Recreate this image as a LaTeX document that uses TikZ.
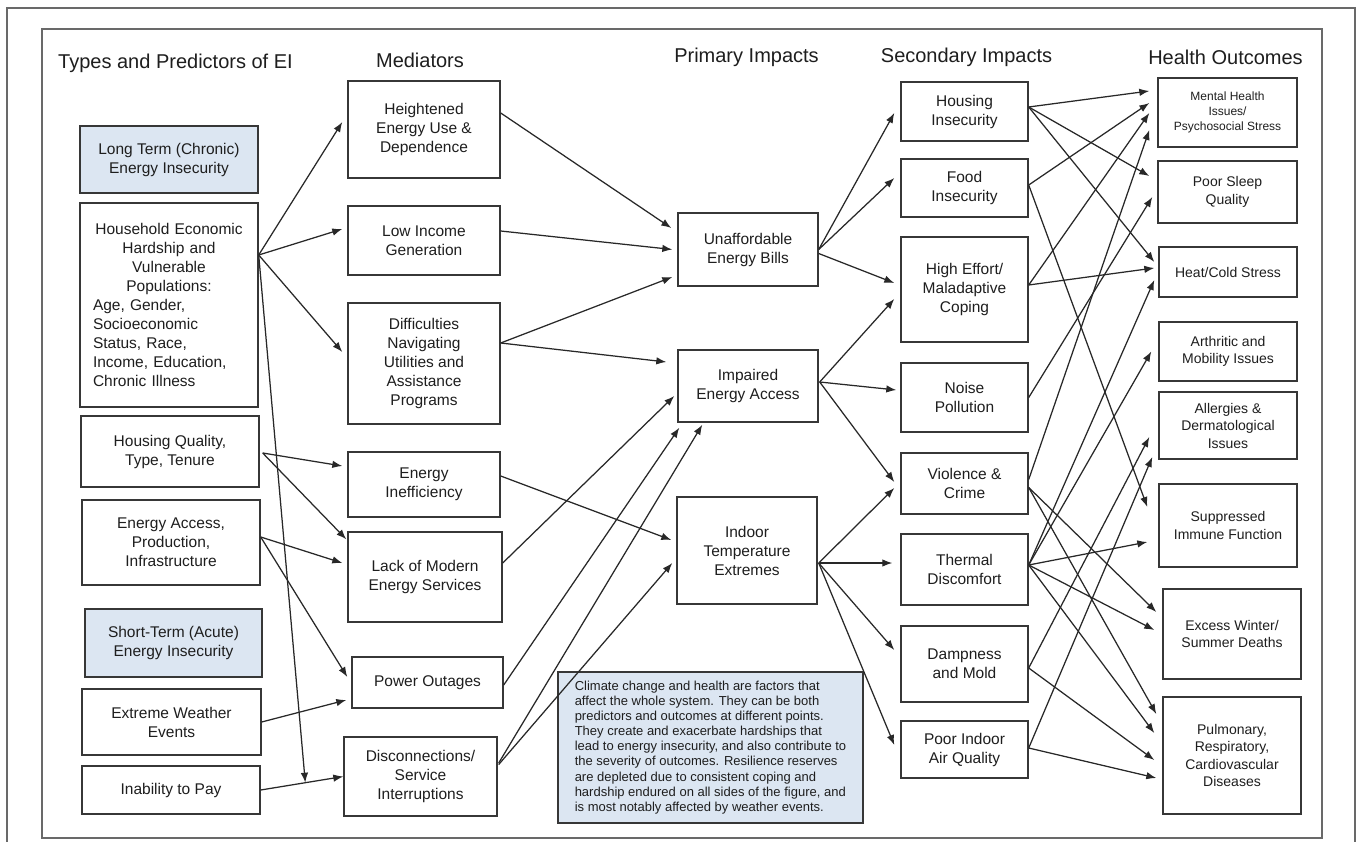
\documentclass[tikz,border=0pt]{standalone}
\usepackage{fontspec}
\setmainfont{Liberation Sans}
\usetikzlibrary{arrows.meta,calc}
\definecolor{boxc}{RGB}{55,55,55}
\definecolor{txt}{RGB}{30,30,30}
\definecolor{bluef}{RGB}{220,230,242}
\definecolor{framec}{RGB}{105,105,105}
\definecolor{arrc}{RGB}{40,40,40}
\begin{document}
\begin{tikzpicture}[x=1pt,y=-1pt,
  box/.style={draw=boxc, line width=1.4pt, fill=white, align=center, inner sep=0pt, text=txt,
              font=\fontsize{15.5}{19}\selectfont},
  hbox/.style={box, font=\fontsize{14}{17.5}\selectfont},
  bluebox/.style={box, fill=bluef},
  head/.style={text=txt, inner sep=0pt, font=\fontsize{20}{24}\selectfont},
  arr/.style={draw=arrc, line width=1.25pt, -{Latex[length=10pt,width=7.5pt]}}]
\useasboundingbox (0,0) rectangle (1362,842);
\fill[white] (0,0) rectangle (1362,842);
% frames
\draw[framec, line width=1.5pt] (7,842) -- (7,8) -- (1355,8) -- (1355,842);
\draw[framec, line width=2pt] (42,29) rectangle (1322,838);
% headers
\node[head] (h1) at (175.5,63) {Types and Predictors of EI};
\node[head] (h2) at (420,60) {Mediators};
\node[head] (h3) at (746.5,57) {Primary Impacts};
\node[head] (h4) at (966.5,57) {Secondary Impacts};
\node[head] (h5) at (1225.5,57) {Health Outcomes};
% column 1
\node[bluebox, minimum width=178pt, minimum height=67pt] (lt) at (169,159.5) {Long Term (Chronic)\\Energy Insecurity};
\node[box, minimum width=178pt, minimum height=204pt, text width=152pt, align=left] (hh) at (169,305)
  {\makebox[152pt]{Household Economic}\\\makebox[152pt]{Hardship and}\\\makebox[152pt]{Vulnerable}\\\makebox[152pt]{Populations:}\\Age, Gender,\\Socioeconomic\\Status, Race,\\Income, Education,\\Chronic Illness};
\node[box, minimum width=178pt, minimum height=71pt] (hq) at (170,451.5) {Housing Quality,\\Type, Tenure};
\node[box, minimum width=178pt, minimum height=85pt] (ea) at (171,542.5) {Energy Access,\\Production,\\Infrastructure};
\node[bluebox, minimum width=177pt, minimum height=68pt] (st) at (173.5,643) {Short-Term (Acute)\\Energy Insecurity};
\node[box, minimum width=179pt, minimum height=66pt] (ew) at (171.5,722) {Extreme Weather\\Events};
\node[box, minimum width=178pt, minimum height=48pt] (ip) at (171,790) {Inability to Pay};
% column 2
\node[box, minimum width=152pt, minimum height=97pt] (he) at (424,129.5) {Heightened\\Energy Use \&\\Dependence};
\node[box, minimum width=152pt, minimum height=69pt] (li) at (424,240.5) {Low Income\\Generation};
\node[box, minimum width=152pt, minimum height=121pt] (dn) at (424,363.5) {Difficulties\\Navigating\\Utilities and\\Assistance\\Programs};
\node[box, minimum width=152pt, minimum height=65pt] (ei) at (424,484.5) {Energy\\Inefficiency};
\node[box, minimum width=154pt, minimum height=90pt] (lm) at (425,577) {Lack of Modern\\Energy Services};
\node[box, minimum width=151pt, minimum height=51pt] (po) at (427.5,682.5) {Power Outages};
\node[box, minimum width=153pt, minimum height=79pt] (dc) at (420.5,776.5) {Disconnections/\\Service\\Interruptions};
% column 3
\node[box, minimum width=140pt, minimum height=73pt] (ub) at (748,249.5) {Unaffordable\\Energy Bills};
\node[box, minimum width=140pt, minimum height=72pt] (ia) at (748,386) {Impaired\\Energy Access};
\node[box, minimum width=140pt, minimum height=107pt] (it) at (747,550.5) {Indoor\\Temperature\\Extremes};
% note
\node[bluebox, minimum width=305pt, minimum height=151pt, align=left, font=\fontsize{13}{15.1}\selectfont] (nt) at (710.5,747.5)
  {Climate change and health are factors that\\affect the whole system. They can be both\\predictors and outcomes at different points.\\They create and exacerbate hardships that\\lead to energy insecurity, and also contribute to\\the severity of outcomes. Resilience reserves\\are depleted due to consistent coping and\\hardship endured on all sides of the figure, and\\is most notably affected by weather events.};
% column 4
\node[box, minimum width=127pt, minimum height=59pt] (hi) at (964.5,111.5) {Housing\\Insecurity};
\node[box, minimum width=127pt, minimum height=58pt] (fi) at (964.5,188) {Food\\Insecurity};
\node[box, minimum width=127pt, minimum height=105pt] (hf) at (964.5,289.5) {High Effort/\\Maladaptive\\Coping};
\node[box, minimum width=127pt, minimum height=69pt] (np) at (964.5,397.5) {Noise\\Pollution};
\node[box, minimum width=127pt, minimum height=61pt] (vc) at (964.5,483.5) {Violence \&\\Crime};
\node[box, minimum width=127pt, minimum height=71pt] (td) at (964.5,569.5) {Thermal\\Discomfort};
\node[box, minimum width=127pt, minimum height=76pt] (dm) at (964.5,664) {Dampness\\and Mold};
\node[box, minimum width=127pt, minimum height=57pt] (pa) at (964.5,749.5) {Poor Indoor\\Air Quality};
% column 5
\node[box, minimum width=139pt, minimum height=69pt, font=\fontsize{12}{15}\selectfont] (mh) at (1227.5,112.5) {Mental Health\\Issues/\\Psychosocial Stress};
\node[hbox, minimum width=139pt, minimum height=62pt] (ps) at (1227.5,192) {Poor Sleep\\Quality};
\node[hbox, minimum width=138pt, minimum height=50pt] (hc) at (1228,272) {Heat/Cold Stress};
\node[hbox, minimum width=138pt, minimum height=59pt] (ar) at (1228,351.5) {Arthritic and\\Mobility Issues};
\node[hbox, minimum width=138pt, minimum height=67pt] (al) at (1228,425.5) {Allergies \&\\Dermatological\\Issues};
\node[hbox, minimum width=138pt, minimum height=83pt] (si) at (1228,525.5) {Suppressed\\Immune Function};
\node[hbox, minimum width=138pt, minimum height=90pt] (ex) at (1232,634) {Excess Winter/\\Summer Deaths};
\node[hbox, minimum width=138pt, minimum height=117pt] (pu) at (1232,755.5) {Pulmonary,\\Respiratory,\\Cardiovascular\\Diseases};
% column 1 -> 2
\coordinate (hho) at ($(hh.east)+(0,-50)$);
\coordinate (ipdc) at ($(ip.east)!0.54!(dc.west)$);
\draw[arr] (hho) -- ($(he.west)+(-5,-7.5)$);
\draw[arr] (hho) -- ($(li.west)+(-5,-11.5)$);
\draw[arr] (hho) -- ($(dn.west)+(-5,-11.5)$);
\draw[arr] (hho) -- (ipdc);
\draw[arr] ($(hq.east)+(3,1.5)$) -- ($(ei.west)+(-5,-18.5)$);
\draw[arr] ($(hq.east)+(3,1.5)$) -- ($(lm.north west)+(-1,8)$);
\draw[arr] ($(ea.east)+(0,-5.5)$) -- ($(lm.west)+(-5,-14)$);
\draw[arr] ($(ea.east)+(0,-5.5)$) -- ($(po.west)+(-4,-5.5)$);
\draw[arr] (ew.east) -- ($(po.west)+(-5,17.5)$);
\draw[arr] (ip.east) -- (dc.west);
% column 2 -> 3
\draw[arr] ($(he.east)+(0,-16.5)$) -- ($(ub.west)+(-6,-21.5)$);
\draw[arr] ($(li.east)+(0,-9.5)$) -- ($(ub.west)+(-5,0)$);
\draw[arr] ($(dn.east)+(0,-20.5)$) -- ($(ub.west)+(-5,27.5)$);
\draw[arr] ($(dn.east)+(0,-20.5)$) -- ($(ia.west)+(-11,-24)$);
\draw[arr] ($(ei.east)+(0,-8.5)$) -- ($(it.west)+(-5,-10.5)$);
\draw[arr] ($(lm.east)+(0,-14)$) -- ($(ia.west)+(-3,10)$);
\draw[arr] ($(po.east)+(0,2.5)$) -- ($(ia.south west)+(2,5)$);
\draw[arr] ($(dc.east)+(1,-13.5)$) -- ($(ia.south west)+(25,2)$);
\draw[arr] ($(dc.east)+(1,-12)$) -- ($(it.west)+(-4,12.5)$);
% column 3 -> 4
\draw[arr] (ub.east) -- ($(hi.west)+(-6,1.5)$);
\draw[arr] (ub.east) -- ($(fi.west)+(-6,-10)$);
\draw[arr] ($(ub.east)+(0,4)$) -- ($(hf.west)+(-6,-6.5)$);
\draw[arr] ($(ia.east)+(1,-4)$) -- ($(hf.west)+(-6,9.5)$);
\draw[arr] ($(ia.east)+(1,-4)$) -- ($(np.west)+(-4,-7.5)$);
\draw[arr] ($(ia.east)+(1,-4)$) -- ($(vc.west)+(-6,-1.5)$);
\draw[arr] ($(it.east)+(1,12.5)$) -- ($(vc.west)+(-6,4.5)$);
\draw[arr] ($(it.east)+(1,12.5)$) -- ($(td.west)+(-8,-6.5)$);
\draw[arr] ($(it.east)+(1,12.5)$) -- ($(dm.west)+(-6,-14)$);
\draw[arr] ($(it.east)+(1,12.5)$) -- ($(pa.west)+(-6,-4.5)$);
% column 4 -> 5
\draw[arr] ($(hi.east)+(0,-4.5)$) -- ($(mh.west)+(-8,-21.5)$);
\draw[arr] ($(hi.east)+(0,-4.5)$) -- ($(ps.west)+(-8,-16)$);
\draw[arr] ($(hi.east)+(0,-4.5)$) -- ($(hc.west)+(-4,-10)$);
\draw[arr] ($(fi.east)+(0,-3)$) -- ($(mh.west)+(-8,-9.5)$);
\draw[arr] ($(fi.east)+(0,-3)$) -- ($(si.west)+(-11,-18.5)$);
\draw[arr] ($(hf.east)+(0,-4.5)$) -- ($(mh.west)+(-8,0.5)$);
\draw[arr] ($(hf.east)+(0,-4.5)$) -- ($(hc.west)+(-4,-4)$);
\draw[arr] (np.east) -- ($(ps.west)+(-5,5)$);
\draw[arr] ($(vc.east)+(0,-4)$) -- ($(mh.west)+(-8,17.5)$);
\draw[arr] ($(vc.east)+(0,4)$) -- ($(ex.west)+(-6,-22)$);
\draw[arr] ($(vc.east)+(0,4)$) -- ($(pu.west)+(-6,-41.5)$);
\draw[arr] ($(td.east)+(0,-4.5)$) -- ($(hc.west)+(-4,8)$);
\draw[arr] ($(td.east)+(0,-4.5)$) -- ($(ar.west)+(-7,0)$);
\draw[arr] ($(td.east)+(0,-4.5)$) -- ($(si.west)+(-11,16.5)$);
\draw[arr] ($(td.east)+(0,-4.5)$) -- ($(ex.west)+(-8,-4)$);
\draw[arr] ($(td.east)+(0,-4.5)$) -- ($(pu.west)+(-8,-22.5)$);
\draw[arr] ($(dm.east)+(0,4)$) -- ($(al.west)+(-9,11.5)$);
\draw[arr] ($(dm.east)+(0,4)$) -- ($(pu.west)+(-8,4.5)$);
\draw[arr] ($(pa.east)+(0,-1.5)$) -- ($(al.west)+(-6,31.5)$);
\draw[arr] ($(pa.east)+(0,-1.5)$) -- ($(pu.west)+(-6,22.5)$);
\end{tikzpicture}
\end{document}
